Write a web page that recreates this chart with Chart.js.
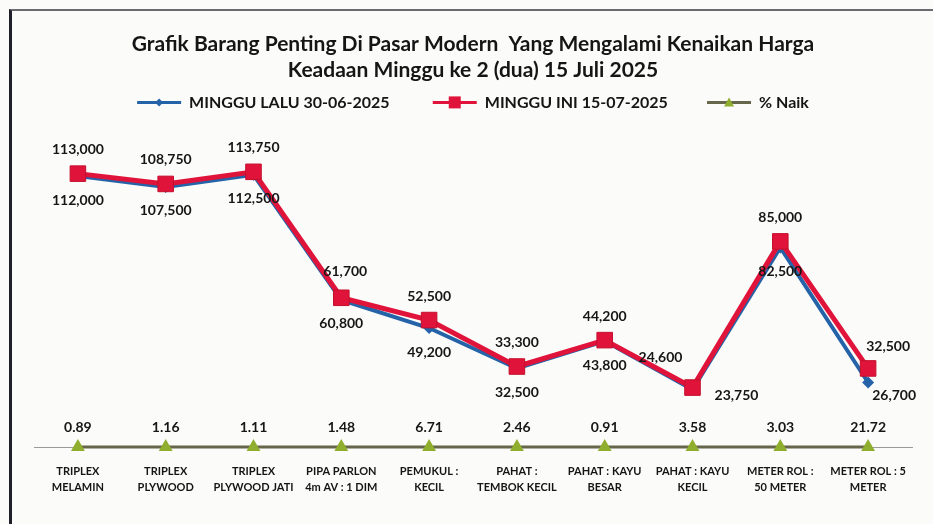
<!DOCTYPE html>
<html>
<head>
<meta charset="utf-8">
<script src="https://cdn.jsdelivr.net/npm/chart.js@4"></script>
<style>
  html, body { margin: 0; padding: 0; background: #fbfbfa; }
  #wrap { position: relative; width: 933px; height: 524px; overflow: hidden; }
  #frame { position: absolute; left: 9px; top: 9px; width: 940px; height: 540px;
           border-left: 3px solid #1f1f2a; border-top: 2px solid #6a6a70; }
  #tracksChart { position: absolute; left: 0; top: 0; }
</style>
</head>
<body>
<div id="wrap">
  <div id="frame"></div>
  <canvas id="tracksChart" width="933" height="524"></canvas>
</div>
<script>
const categories = [
    ["TRIPLEX", "MELAMIN"],
    ["TRIPLEX", "PLYWOOD"],
    ["TRIPLEX", "PLYWOOD JATI"],
    ["PIPA PARLON", "4m AV : 1 DIM"],
    ["PEMUKUL :", "KECIL"],
    ["PAHAT :", "TEMBOK KECIL"],
    ["PAHAT : KAYU", "BESAR"],
    ["PAHAT : KAYU", "KECIL"],
    ["METER ROL :", "50 METER"],
    ["METER ROL : 5", "METER"]
];

const lastWeek = [112000, 107500, 112500, 60800, 49200, 32500, 43800, 23750, 82500, 26700];
const thisWeek = [113000, 108750, 113750, 61700, 52500, 33300, 44200, 24600, 85000, 32500];
const pctNaik = [0.89, 1.16, 1.11, 1.48, 6.71, 2.46, 0.91, 3.58, 3.03, 21.72];

const BLUE = "#2563a8";
const RED = "#e0143a";
const OLIVE = "#66664a";
const GREEN = "#8fae2e";

function fmt(v, pct) {
    if (pct) return v.toFixed(2);
    return v.toLocaleString("en-US");
}

// label placement: [dx, dy] per dataset, with a few exceptions
const labelShift = {
    0: { def: [0, 24], 7: [44, 6], 9: [26, 13] },
    1: { def: [0, -24], 3: [4, -26], 7: [-32, -30], 9: [20, -22] },
    2: { def: [0, -20] }
};

const valueLabels = {
    id: "valueLabels",
    afterDatasetsDraw(chart) {
        const ctx = chart.ctx;
        ctx.save();
        ctx.font = "bold 14px Lato";
        ctx.fillStyle = "#161616";
        ctx.textAlign = "center";
        ctx.textBaseline = "middle";
        chart.data.datasets.forEach((ds, di) => {
            const meta = chart.getDatasetMeta(di);
            const shifts = labelShift[di];
            meta.data.forEach((pt, i) => {
                const s = shifts[i] || shifts.def;
                ctx.fillText(fmt(ds.data[i], di === 2), pt.x + s[0], pt.y + s[1]);
            });
        });
        ctx.restore();
    }
};

const legendMarkers = {
    id: "legendMarkers",
    afterDraw(chart) {
        const ctx = chart.ctx;
        const boxes = chart.legend.legendHitBoxes;
        const bw = chart.options.plugins.legend.labels.boxWidth;
        ctx.save();
        boxes.forEach((b, i) => {
            const cx = b.left + bw / 2;
            const cy = b.top + b.height / 2;
            if (i === 0) {
                ctx.fillStyle = BLUE;
                ctx.beginPath();
                ctx.moveTo(cx, cy - 4); ctx.lineTo(cx + 4, cy);
                ctx.lineTo(cx, cy + 4); ctx.lineTo(cx - 4, cy);
                ctx.closePath(); ctx.fill();
            } else if (i === 1) {
                ctx.fillStyle = RED;
                ctx.fillRect(cx - 6, cy - 6, 12, 12);
            } else {
                ctx.fillStyle = GREEN;
                ctx.beginPath();
                ctx.moveTo(cx, cy - 5); ctx.lineTo(cx + 5, cy + 4);
                ctx.lineTo(cx - 5, cy + 4);
                ctx.closePath(); ctx.fill();
            }
        });
        ctx.restore();
    }
};

const ctx = document.getElementById("tracksChart");

new Chart(ctx, {
    type: "line",
    data: {
        labels: categories,
        datasets: [{
            label: "MINGGU LALU 30-06-2025",
            data: lastWeek,
            borderColor: BLUE,
            backgroundColor: BLUE,
            borderWidth: 4,
            pointStyle: "rectRot",
            pointRadius: 6,
            pointBorderWidth: 0,
            clip: false,
            order: 1
        }, {
            label: "MINGGU INI 15-07-2025",
            data: thisWeek,
            borderColor: RED,
            backgroundColor: RED,
            borderWidth: 5,
            pointStyle: "rect",
            pointRadius: 11,
            pointBorderColor: "#c40f2c",
            pointBorderWidth: 1,
            clip: false,
            order: 0
        }, {
            label: "% Naik",
            data: pctNaik,
            borderColor: OLIVE,
            backgroundColor: GREEN,
            borderWidth: 3,
            pointStyle: "triangle",
            pointRadius: 8,
            pointBorderWidth: 0,
            clip: false,
            order: 2
        }]
    },
    options: {
        responsive: false,
        animation: false,
        layout: {
            padding: { left: 34, right: 21, top: 0, bottom: 21 }
        },
        plugins: {
            title: {
                display: true,
                text: [
                    "Grafik Barang Penting Di Pasar Modern  Yang Mengalami Kenaikan Harga",
                    "Keadaan Minggu ke 2 (dua) 15 Juli 2025"
                ],
                color: "#151515",
                font: { family: "Lato", size: 21, weight: "bold", lineHeight: 1.2 },
                padding: { top: 32, bottom: 0 }
            },
            legend: {
                position: "top",
                labels: {
                    color: "#151515",
                    font: { family: "Lato", size: 16, weight: "bold" },
                    boxWidth: 44,
                    boxHeight: 3,
                    padding: 12,
                    generateLabels(chart) {
                        const tail = ["        ", "       ", ""];
                        return chart.data.datasets.map((ds, i) => ({
                            text: ds.label + tail[i],
                            fillStyle: ds.borderColor,
                            strokeStyle: ds.borderColor,
                            lineWidth: 0,
                            fontColor: "#151515",
                            datasetIndex: i,
                            hidden: false
                        }));
                    }
                }
            },
            tooltip: { enabled: false }
        },
        scales: {
            x: {
                offset: true,
                grid: { display: false },
                border: { display: true, color: "#9a9a9a", width: 1 },
                ticks: {
                    color: "#151515",
                    font: { family: "Lato", size: 11, weight: "bold", lineHeight: 1.45 },
                    maxRotation: 0,
                    autoSkip: false,
                    padding: 8
                }
            },
            y: {
                display: false,
                min: 0,
                max: 135000
            }
        }
    },
    plugins: [valueLabels, legendMarkers]
});
</script>
</body>
</html>
